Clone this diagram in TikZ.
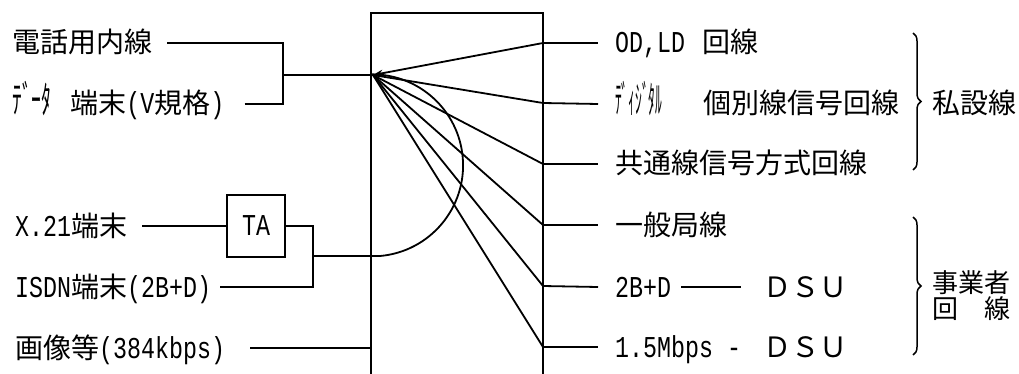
\documentclass[tikz,border=0pt]{standalone}
\usepackage{fontspec}
\setmainfont{Noto Sans CJK JP}
\newfontfamily\monof{Liberation Mono}
\usetikzlibrary{decorations.pathreplacing,arrows.meta}
\newcommand\lat[1]{\scalebox{1}[1.3]{\monof\fontsize{23.3}{28}\selectfont #1}}
\newcommand\hk[2]{\scalebox{#1}[1.35]{#2}}
\begin{document}
\begin{tikzpicture}[x=1pt,y=-1pt,
  lbl/.style={inner sep=0pt, anchor=west, font=\fontsize{28}{30}\selectfont, text height=22pt, text depth=2pt},
  wire/.style={line width=1.8pt},
  brc/.style={line width=1.5pt, decorate, decoration={brace, amplitude=8pt}}]
\useasboundingbox (0,0) rectangle (1019,374);
% switch box
\coordinate (bl) at (371,376);
\coordinate (tl) at (371,13);
\coordinate (tr) at (543,13);
\coordinate (br) at (543,376);
\draw[wire] (bl) -- (tl) -- (tr) -- (br);
\coordinate (hub) at (373,75);
% left labels
\node[lbl] (tel) at (12,43) {電話用内線};
\node[lbl] (data) at (12,104) {\hk{0.7}{ﾃﾞｰﾀ}\hspace{19pt}端末\lat{(V}規格\lat{)}};
\node[lbl] (x21) at (15,226) {\lat{X.21}端末};
\node[lbl] (isdn) at (15,287) {\lat{ISDN}端末\lat{(2B+D)}};
\node[lbl] (img) at (15,348) {画像等\lat{(384kbps)}};
\node[draw, wire, minimum width=58pt, minimum height=62pt, inner sep=0pt] (ta) at (256,226) {\lat{TA}};
% right labels
\node[lbl] (od) at (615,43) {\lat{OD,LD}\hspace{17pt}回線};
\node[lbl] (dig) at (615,104) {\hk{0.48}{ﾃﾞｨｼﾞﾀﾙ}\hspace{41pt}個別線信号回線};
\node[lbl] (cc) at (615,164) {共通線信号方式回線};
\node[lbl] (gen) at (615,225) {一般局線};
\node[lbl] (bd) at (615,287) {\lat{2B+D}};
\node[lbl] (dsu1) at (763,287) {ＤＳＵ};
\node[lbl] (mb) at (615,347) {\lat{1.5Mbps -}\hspace{22pt}ＤＳＵ};
\node[lbl] (priv) at (932,104) {私設線};
\node[inner sep=0pt, anchor=north west, align=left, font=\fontsize{26}{26}\selectfont] (carrier) at (932,270) {事業者\\回　線};
% braces
\coordinate (b1t) at (913,33);
\coordinate (b1b) at (913,170);
\coordinate (b2t) at (913,217);
\coordinate (b2b) at (913,355);
\draw[brc] (b1t) -- (b1b);
\draw[brc] (b2t) -- (b2b);
% left connectors
\coordinate (j1) at (283,75);
\draw[wire] ([xshift=15pt]tel.east) -| (j1);
\draw[wire] ([xshift=20pt]data.east) -| (j1);
\draw[wire] (j1) -- (hub);
\draw[wire] ([xshift=15pt]x21.east) -- (ta.west);
\coordinate (isdnc) at (313,287);
\coordinate (j2) at (313,256);
\coordinate (e2) at (380,256);
\draw[wire] (ta.east) -| (isdnc) -- ([xshift=9pt]isdn.east);
\draw[wire] (j2) -- (e2) arc[start angle=-85, end angle=90, radius=91pt];
\draw[wire] ([xshift=25pt]img.east) -- (img.east -| bl);
% right connectors
\coordinate (r1) at (543,43);
\coordinate (r2) at (543,103);
\coordinate (r3) at (543,164);
\coordinate (r4) at (543,225);
\coordinate (r5) at (543,286);
\coordinate (r6) at (543,347);
\draw[wire, -{Stealth[length=10pt,width=7pt]}] (r1) -- (hub);
\foreach \r in {r2,r3,r4,r5,r6} \draw[wire] (hub) -- (\r);
\draw[wire] (r1) -- ([xshift=-17pt]od.west);
\draw[wire] (r2) -- ([xshift=-17pt]dig.west);
\draw[wire] (r3) -- ([xshift=-17pt]cc.west);
\draw[wire] (r4) -- ([xshift=-17pt]gen.west);
\draw[wire] (r5) -- ([xshift=-17pt]bd.west);
\draw[wire] (r6) -- ([xshift=-17pt]mb.west);
\draw[wire, shorten <=10pt, shorten >=22pt] (bd.east) -- (dsu1.west);
\end{tikzpicture}
\end{document}
